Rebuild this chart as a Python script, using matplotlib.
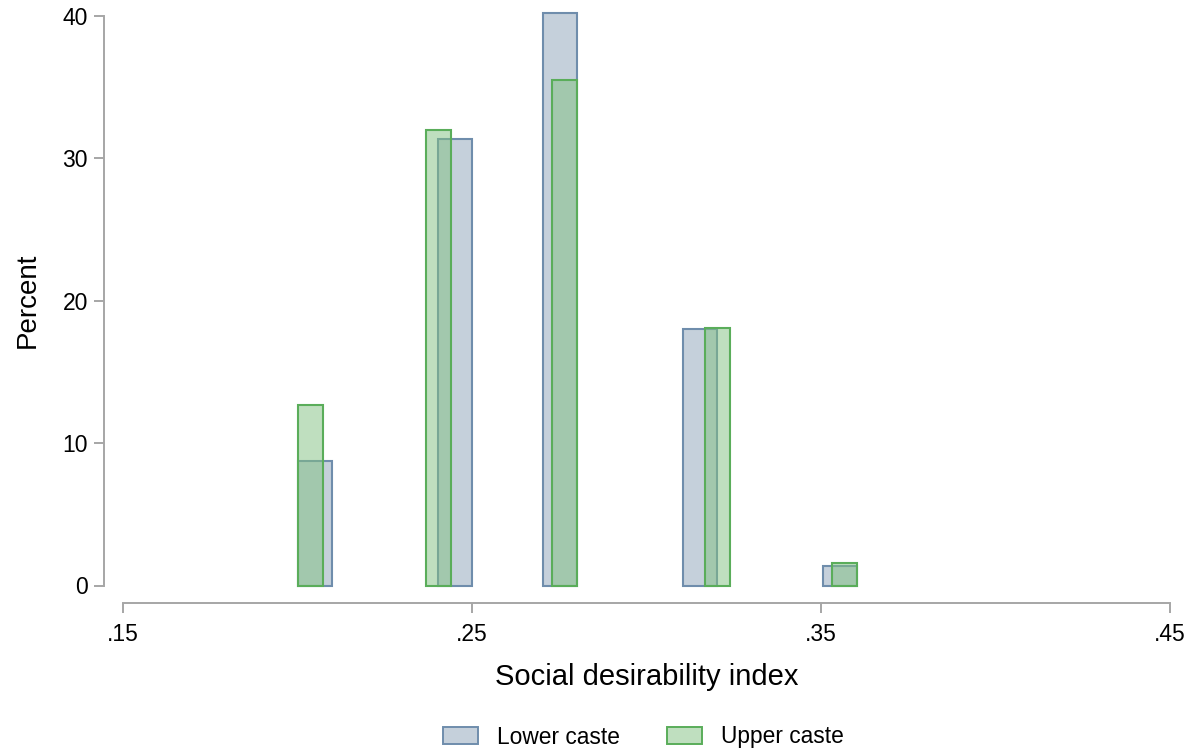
import matplotlib
matplotlib.use("Agg")
import matplotlib.pyplot as plt
from matplotlib.patches import Patch

# ---- data ----
series_names = ["Lower caste", "Upper caste"]
lower_bin_left = [0.2001, 0.2403, 0.2703, 0.3105, 0.3506]
lower_bin_width = 0.0098
lower_percent = [8.74, 31.35, 40.2, 18.0, 1.37]
upper_bin_left = [0.2001, 0.2368, 0.2729, 0.3168, 0.3532]
upper_bin_width = 0.0072
upper_percent = [12.68, 32.0, 35.5, 18.08, 1.58]
x_ticks = [0.15, 0.25, 0.35, 0.45]
x_tick_labels = [".15", ".25", ".35", ".45"]
y_ticks = [0, 10, 20, 30, 40]

plt.rcParams['font.family'] = ['Liberation Sans', 'DejaVu Sans']

fig = plt.figure(figsize=(11.98, 7.55), dpi=100)
ax = fig.add_axes([123/1198, 1-585.5/755, (1170-123)/1198, (585.5-16)/755])

blue_fill = (0.553, 0.635, 0.725, 0.5)
blue_edge = "#6f8dac"
green_fill = (0.506, 0.757, 0.502, 0.5)
green_edge = "#5aad5a"

ax.bar(lower_bin_left, lower_percent, width=lower_bin_width, align='edge',
       facecolor=blue_fill, edgecolor=blue_edge, linewidth=1.5, clip_on=False, zorder=2)
ax.bar(upper_bin_left, upper_percent, width=upper_bin_width, align='edge',
       facecolor=green_fill, edgecolor=green_edge, linewidth=1.5, clip_on=False, zorder=3)

ax.set_xlim(0.15, 0.45)
ax.set_ylim(0, 40)
ax.set_xticks(x_ticks)
ax.set_xticklabels(x_tick_labels)
ax.set_yticks(y_ticks)

spine_col = "#a6a6a6"
for s in ["top", "right"]:
    ax.spines[s].set_visible(False)
ax.spines["left"].set_position(("outward", 13.7))
ax.spines["bottom"].set_position(("outward", 12.6))
for s in ["left", "bottom"]:
    ax.spines[s].set_color(spine_col)
    ax.spines[s].set_linewidth(1.4)
ax.tick_params(axis='both', colors=spine_col, length=7.2, width=1.4, labelsize=16.5,
               labelcolor='black')
ax.tick_params(axis='y', pad=4.3)
ax.tick_params(axis='x', pad=7.5)

ax.set_xlabel("Social desirability index", fontsize=21, labelpad=12)
ax.set_ylabel("Percent", fontsize=20, labelpad=16)
ax.patch.set_visible(False)

handles = [Patch(facecolor=blue_fill, edgecolor=blue_edge, linewidth=1.4),
           Patch(facecolor=green_fill, edgecolor=green_edge, linewidth=1.4)]
fig.legend(handles, series_names, loc='center', bbox_to_anchor=(643.5/1198, 1-737/755),
           ncol=2, frameon=False, fontsize=16.4, handlelength=1.53, handleheight=0.79,
           handletextpad=0.83, columnspacing=2.1)

fig.savefig("out.png", dpi=100)
